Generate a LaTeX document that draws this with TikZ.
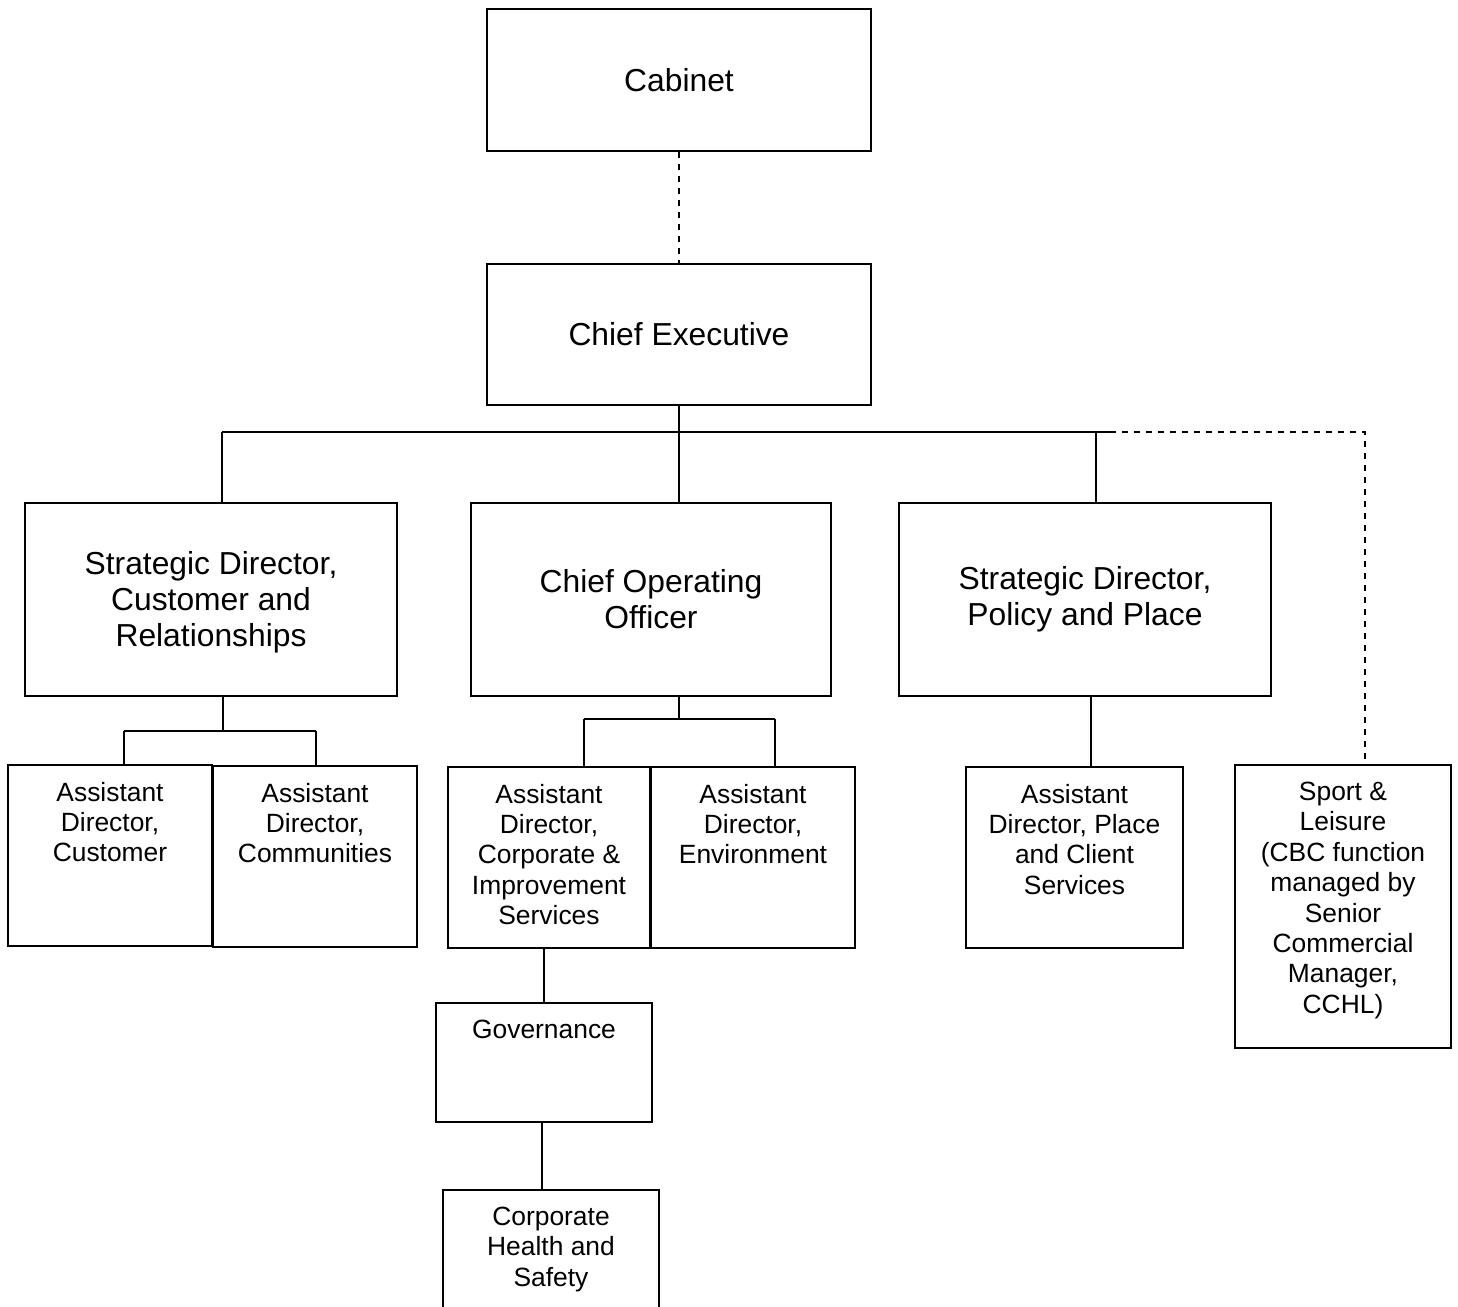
\documentclass[tikz,border=0pt]{standalone}
\usepackage{fontspec}
\setmainfont{Liberation Sans}
\usetikzlibrary{positioning}

\begin{document}
\begin{tikzpicture}[
  x={(0.5pt,0)}, y={(0,-0.5pt)},
  link/.style={line width=1pt},
  dlink/.style={link, dash pattern=on 3pt off 3pt},   % indirect lines
  head/.style={draw, line width=1pt, inner sep=0pt, align=center,
    font=\fontsize{15.9pt}{18pt}\selectfont},
  sub/.style={draw, line width=1pt, inner sep=0pt},
  txt/.style={inner sep=0pt, align=center, font=\fontsize{13.2pt}{15.2pt}\selectfont}
]
\useasboundingbox (0,0) rectangle (1458,1307);

% Top levels
\node[head, minimum width=192pt, minimum height=71pt]   (cab) at (679,80)    {Cabinet};
\node[head, minimum width=192pt, minimum height=70.5pt] (ce)  at (679,334.5) {Chief Executive};
\node[head, minimum width=186pt, minimum height=96.5pt] (sdc) at (211,599.5) {\\[-4pt]Strategic Director,\\Customer and\\Relationships};
\node[head, minimum width=180pt, minimum height=96.5pt] (coo) at (651,599.5) {Chief Operating\\Officer};
\node[head, minimum width=186pt, minimum height=96.5pt] (sdp) at (1085,599.5) {Strategic Director,\\Policy and Place};

% Assistant directors and services
\node[sub, minimum width=102pt, minimum height=90.5pt]   (adcu) at (110,855.5)  {};
\node[sub, minimum width=102pt, minimum height=90.5pt]   (adco) at (315,856.5)  {};
\node[sub, minimum width=101pt, minimum height=90.5pt]   (adci) at (549,857.5)  {};
\node[sub, minimum width=102pt, minimum height=90.5pt]   (aden) at (753,857.5)  {};
\node[sub, minimum width=108.5pt, minimum height=90.5pt] (adpl) at (1074.5,857.5) {};
\node[sub, minimum width=108pt, minimum height=141.5pt]  (spl)  at (1343,906.5) {};
\node[sub, minimum width=108pt, minimum height=59.5pt]   (gov)  at (544,1062.5) {};
\node[sub, minimum width=108pt, minimum height=60pt]     (chs)  at (551,1250)   {};

\node[txt, below=8.8pt of adcu.north] (adcut) {Assistant\\Director,\\Customer};
\node[txt, below=8.8pt of adco.north] (adcot) {Assistant\\Director,\\Communities};
\node[txt, below=8.8pt of adci.north] (adcit) {Assistant\\Director,\\Corporate \&\\Improvement\\Services};
\node[txt, below=8.8pt of aden.north] (adent) {Assistant\\Director,\\Environment};
\node[txt, below=8.8pt of adpl.north] (adplt) {Assistant\\Director, Place\\and Client\\Services};
\node[txt, below=8.8pt of spl.north]  (splt)  {Sport \&\\Leisure\\(CBC function\\managed by\\Senior\\Commercial\\Manager,\\CCHL)};
\node[txt, below=8.8pt of gov.north]  (govt)  {Governance};
\node[txt, below=8.8pt of chs.north]  (chst)  {Corporate\\Health and\\Safety};

% Bus under chief executive
\coordinate (busl) at (222,432);
\coordinate (busp) at (1096,432);
\coordinate (busr) at (1110,432);
\coordinate (busx) at (1365,432);

\draw[dlink] (cab) -- (ce);
\draw[link] (ce.south) -- (coo.north -| ce.south);
\draw[link] (busl) -- (busr);
\draw[link] (busl) -- (busl |- sdc.north);
\draw[link] (busp) -- (busp |- sdp.north);
\draw[dlink] (busr) -- (busx) -- (busx |- spl.north);

% Brackets
\coordinate (brl)  at (223,731);
\coordinate (brla) at (124,731);
\coordinate (brlb) at (316,731);
\draw[link] (brl |- sdc.south) -- (brl);
\draw[link] (brla) -- (brlb);
\draw[link] (brla) -- (brla |- adcu.north);
\draw[link] (brlb) -- (brlb |- adco.north);

\coordinate (brc)  at (679,719);
\coordinate (brca) at (584,719);
\coordinate (brcb) at (775,719);
\draw[link] (brc |- coo.south) -- (brc);
\draw[link] (brca) -- (brcb);
\draw[link] (brca) -- (brca |- adci.north);
\draw[link] (brcb) -- (brcb |- aden.north);

\coordinate (sdpx) at (1091,696);
\draw[link] (sdpx) -- (sdpx |- adpl.north);

\draw[link] (adci.south -| gov.north) -- (gov.north);
\coordinate (hs) at (542,1122);
\draw[link] (hs) -- (hs |- chs.north);

\end{tikzpicture}
\end{document}
